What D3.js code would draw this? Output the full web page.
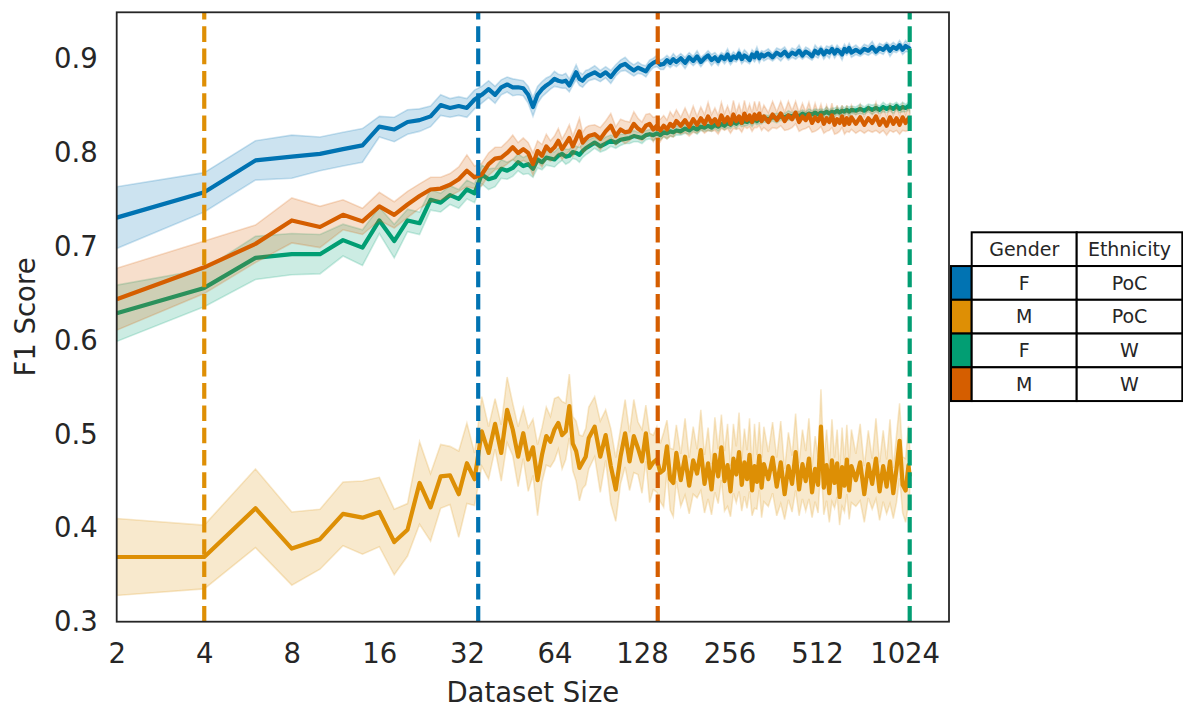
<!DOCTYPE html>
<html>
<head>
<meta charset="utf-8">
<script src="https://cdn.jsdelivr.net/npm/d3@7"></script>
<style>
  body { margin: 0; background: #fff; }
  svg { display: block; font-family: "DejaVu Sans", sans-serif; }
</style>
</head>
<body>
<svg id="chart"></svg>
<script>
// dataset sizes (x)
var sizes = [
  2,4,6,8,10,12,14,16,18,20, 22,24,26,28,30,32,34,36,38,40, 42,44,46,48,50,52,54,56,58,60, 62,64,66,68,70,72,74,76,78,80, 82,84,
  88,92,96,100,104,108,112,116,120,124, 128,132,136,140,144,148,152,156,160,164, 168,
  174,180,186,192,198,204,210,216,222,228, 234,240,246,252,258,264,270,276,282,288, 294,300,306,312,318,324,330,336,
  348,360,372,384,396,408,420,432,444,456, 468,480,492,504,516,528,540,552,564,576, 588,600,612,624,636,648,660,672,
  696,720,744,768,792,816,840,864,888,912, 936,960,984,1008,1032,1056,1066
];

// F / PoC
var fPocMean = [
  0.731,0.758,0.792,0.796,0.799,0.804,0.808,0.828,0.825,0.833, 0.835,0.839,0.851,0.848,0.850,0.848,0.857,0.862,0.868,0.862,
  0.870,0.873,0.870,0.870,0.869,0.862,0.849,0.862,0.868,0.872, 0.875,0.879,0.877,0.876,0.877,0.872,0.879,0.886,0.879,0.877, 0.881,0.883,
  0.886,0.882,0.886,0.881,0.888,0.893,0.895,0.891,0.888,0.891, 0.889,0.887,0.893,0.896,0.898,0.894,0.895,0.899,0.896,0.900, 0.897,
  0.901,0.896,0.902,0.898,0.903,0.897,0.901,0.904,0.899,0.902, 0.898,0.903,0.900,0.905,0.899,0.903,0.901,0.906,0.900,0.904, 0.902,0.899,0.905,0.902,0.907,0.901,0.905,0.903,
  0.906,0.902,0.907,0.904,0.908,0.903,0.907,0.905,0.909,0.904, 0.908,0.906,0.903,0.909,0.906,0.910,0.905,0.909,0.907,0.911, 0.906,0.910,0.908,0.905,0.911,0.908,0.912,0.907,
  0.910,0.907,0.911,0.909,0.913,0.908,0.912,0.910,0.914,0.909, 0.913,0.911,0.915,0.910,0.914,0.912,0.914
];
var fPocCi = [
  0.033,0.021,0.021,0.023,0.018,0.018,0.018,0.011,0.013,0.013, 0.012,0.011,0.011,0.010,0.010,0.010,0.010,0.009,0.009,0.009,
  0.008,0.008,0.009,0.008,0.008,0.009,0.010,0.009,0.008,0.008, 0.007,0.008,0.007,0.007,0.008,0.007,0.007,0.008,0.007,0.007, 0.007,0.006,
  0.007,0.006,0.006,0.007,0.006,0.006,0.007,0.006,0.006,0.006, 0.005,0.006,0.006,0.005,0.006,0.005,0.006,0.005,0.005,0.006, 0.005,
  0.005,0.006,0.005,0.005,0.006,0.005,0.004,0.005,0.006,0.005, 0.005,0.004,0.005,0.006,0.005,0.005,0.004,0.005,0.005,0.006, 0.005,0.004,0.005,0.005,0.006,0.005,0.004,0.005,
  0.005,0.004,0.005,0.006,0.005,0.004,0.005,0.005,0.006,0.004, 0.005,0.005,0.004,0.006,0.005,0.004,0.005,0.005,0.006,0.004, 0.005,0.005,0.004,0.006,0.005,0.004,0.005,0.005,
  0.005,0.004,0.005,0.005,0.006,0.004,0.005,0.005,0.004,0.006, 0.005,0.004,0.005,0.005,0.006,0.004,0.005
];

// M / PoC
var mPocMean = [
  0.369,0.369,0.421,0.378,0.388,0.415,0.411,0.417,0.385,0.398, 0.448,0.422,0.455,0.456,0.436,0.469,0.452,0.503,0.480,0.511,
  0.480,0.526,0.505,0.476,0.501,0.473,0.486,0.451,0.478,0.498, 0.492,0.505,0.512,0.499,0.503,0.530,0.490,0.482,0.464,0.470, 0.476,0.496,
  0.508,0.476,0.499,0.466,0.441,0.476,0.501,0.471,0.498,0.485, 0.471,0.501,0.464,0.470,0.473,0.459,0.462,0.487,0.452,0.448, 0.480,
  0.451,0.476,0.445,0.472,0.458,0.483,0.447,0.469,0.441,0.478, 0.455,0.486,0.450,0.467,0.439,0.474,0.457,0.481,0.446,0.470, 0.452,0.478,0.440,0.466,0.449,0.477,0.443,0.468,
  0.452,0.475,0.444,0.470,0.436,0.466,0.447,0.481,0.441,0.468, 0.450,0.474,0.438,0.463,0.446,0.508,0.443,0.467,0.437,0.472, 0.448,0.469,0.433,0.465,0.445,0.473,0.440,0.466,
  0.451,0.470,0.436,0.468,0.447,0.474,0.439,0.466,0.444,0.471, 0.437,0.463,0.493,0.446,0.440,0.467,0.455
];
var mPocCi = [
  0.041,0.034,0.042,0.039,0.032,0.034,0.039,0.037,0.035,0.028, 0.044,0.036,0.034,0.031,0.046,0.043,0.028,0.037,0.028,0.027,
  0.030,0.035,0.028,0.032,0.027,0.034,0.030,0.038,0.029,0.031, 0.027,0.033,0.028,0.036,0.030,0.034,0.029,0.032,0.035,0.028, 0.030,0.033,
  0.032,0.038,0.027,0.040,0.034,0.029,0.036,0.031,0.039,0.028, 0.034,0.030,0.037,0.029,0.035,0.031,0.040,0.028,0.033,0.036, 0.030,
  0.028,0.041,0.030,0.036,0.026,0.043,0.031,0.038,0.027,0.040, 0.029,0.035,0.032,0.044,0.027,0.037,0.030,0.042,0.028,0.036, 0.031,0.039,0.027,0.045,0.029,0.036,0.032,0.040,
  0.029,0.038,0.031,0.044,0.027,0.036,0.030,0.041,0.028,0.037, 0.032,0.043,0.027,0.035,0.030,0.040,0.029,0.038,0.031,0.044, 0.027,0.036,0.030,0.042,0.028,0.037,0.031,0.039,
  0.028,0.041,0.030,0.036,0.027,0.043,0.031,0.038,0.029,0.045, 0.027,0.036,0.040,0.030,0.034,0.042,0.030
];

// F / W
var fWMean = [
  0.629,0.656,0.688,0.692,0.692,0.707,0.699,0.728,0.706,0.728, 0.725,0.750,0.747,0.755,0.751,0.761,0.757,0.777,0.772,0.774,
  0.783,0.781,0.784,0.790,0.786,0.788,0.783,0.793,0.790,0.795, 0.794,0.793,0.797,0.799,0.796,0.797,0.801,0.800,0.798,0.802, 0.805,0.807,
  0.811,0.807,0.810,0.813,0.811,0.814,0.815,0.816,0.818,0.817, 0.816,0.819,0.820,0.819,0.821,0.819,0.822,0.821,0.823,0.822, 0.824,
  0.823,0.826,0.824,0.827,0.825,0.828,0.827,0.829,0.827,0.830, 0.828,0.831,0.829,0.832,0.830,0.833,0.831,0.834,0.832,0.834, 0.833,0.835,0.833,0.836,0.834,0.836,0.835,0.837,
  0.836,0.838,0.837,0.839,0.838,0.840,0.839,0.841,0.839,0.842, 0.840,0.842,0.841,0.843,0.841,0.843,0.842,0.844,0.842,0.844, 0.843,0.845,0.843,0.845,0.844,0.846,0.844,0.846,
  0.845,0.847,0.845,0.848,0.846,0.848,0.846,0.849,0.847,0.849, 0.847,0.850,0.847,0.849,0.848,0.850,0.849
];
var fWCi = [
  0.030,0.020,0.023,0.022,0.021,0.017,0.019,0.014,0.018,0.012, 0.012,0.011,0.010,0.010,0.010,0.010,0.010,0.010,0.011,0.010,
  0.010,0.009,0.009,0.009,0.009,0.010,0.009,0.009,0.008,0.008, 0.008,0.008,0.008,0.007,0.008,0.007,0.007,0.007,0.008,0.007, 0.007,0.007,
  0.006,0.006,0.007,0.006,0.006,0.006,0.005,0.006,0.006,0.005, 0.006,0.005,0.005,0.006,0.005,0.005,0.005,0.006,0.005,0.005, 0.005,
  0.004,0.005,0.004,0.004,0.005,0.004,0.004,0.005,0.004,0.004, 0.005,0.004,0.004,0.005,0.004,0.004,0.005,0.004,0.004,0.005, 0.004,0.004,0.005,0.004,0.004,0.005,0.004,0.004,
  0.004,0.004,0.005,0.004,0.004,0.005,0.004,0.004,0.005,0.004, 0.004,0.005,0.004,0.004,0.005,0.004,0.004,0.005,0.004,0.004, 0.005,0.004,0.004,0.005,0.004,0.004,0.005,0.004,
  0.004,0.005,0.004,0.004,0.005,0.004,0.004,0.005,0.004,0.004, 0.005,0.004,0.004,0.005,0.004,0.004,0.005
];

// M / W
var mWMean = [
  0.644,0.678,0.703,0.728,0.721,0.734,0.727,0.743,0.734,0.745, 0.754,0.761,0.762,0.766,0.772,0.781,0.774,0.777,0.788,0.794,
  0.795,0.800,0.806,0.800,0.804,0.800,0.788,0.802,0.797,0.807, 0.802,0.806,0.813,0.804,0.810,0.816,0.807,0.815,0.823,0.811, 0.815,0.818,
  0.820,0.815,0.823,0.829,0.818,0.825,0.822,0.823,0.831,0.826, 0.823,0.829,0.831,0.825,0.829,0.824,0.829,0.825,0.831,0.828, 0.834,
  0.829,0.835,0.828,0.836,0.830,0.837,0.831,0.839,0.832,0.836, 0.830,0.840,0.833,0.838,0.831,0.841,0.834,0.839,0.832,0.842, 0.835,0.840,0.833,0.841,0.836,0.842,0.834,0.839,
  0.833,0.841,0.835,0.842,0.834,0.840,0.836,0.843,0.833,0.839, 0.835,0.841,0.832,0.838,0.834,0.840,0.831,0.837,0.833,0.840, 0.830,0.836,0.832,0.839,0.830,0.837,0.831,0.838,
  0.831,0.838,0.830,0.837,0.832,0.839,0.830,0.836,0.829,0.838, 0.831,0.837,0.830,0.838,0.832,0.837,0.835
];
var mWCi = [
  0.033,0.028,0.020,0.024,0.022,0.016,0.014,0.015,0.014,0.014, 0.013,0.013,0.012,0.012,0.013,0.017,0.012,0.012,0.012,0.012,
  0.011,0.012,0.013,0.011,0.012,0.011,0.012,0.011,0.012,0.013, 0.011,0.012,0.013,0.011,0.012,0.014,0.011,0.012,0.014,0.011, 0.012,0.011,
  0.010,0.012,0.011,0.013,0.010,0.011,0.012,0.010,0.013,0.011, 0.010,0.012,0.011,0.013,0.010,0.012,0.011,0.010,0.013,0.011, 0.012,
  0.009,0.013,0.010,0.014,0.009,0.012,0.010,0.015,0.009,0.012, 0.010,0.014,0.009,0.012,0.010,0.015,0.009,0.013,0.010,0.014, 0.009,0.012,0.010,0.014,0.009,0.013,0.010,0.012,
  0.010,0.014,0.009,0.013,0.010,0.015,0.009,0.012,0.010,0.014, 0.009,0.013,0.010,0.015,0.009,0.012,0.010,0.014,0.009,0.013, 0.010,0.015,0.009,0.012,0.010,0.014,0.009,0.013,
  0.010,0.014,0.009,0.013,0.010,0.015,0.009,0.012,0.010,0.014, 0.009,0.013,0.010,0.014,0.009,0.013,0.010
];

var seriesColors = ["#0173b2", "#de8f05", "#029e73", "#d55e00"];
var genders = ["F", "M", "F", "M"];
var ethnicities = ["PoC", "PoC", "W", "W"];
var tableHeader = ["Gender", "Ethnicity"];

var xTicks = [2, 4, 8, 16, 32, 64, 128, 256, 512, 1024];
var yTicks = [0.3, 0.4, 0.5, 0.6, 0.7, 0.8, 0.9];
var cutoffs = [4, 35, 145, 1066];
var cutoffColors = ["#de8f05", "#0173b2", "#d55e00", "#029e73"];

var width = 1183, height = 709;
var plot = { left: 116.7, right: 949, top: 12.3, bottom: 621.7 };
var textColor = "#262626";

var svg = d3.select("#chart").attr("width", width).attr("height", height);
svg.append("rect").attr("width", width).attr("height", height).attr("fill", "#fff");

var x = d3.scaleLog().base(2).domain([2, 1455]).range([plot.left, plot.right]);
var y = d3.scaleLinear().domain([0.3, 0.95]).range([plot.bottom, plot.top]);

svg.append("clipPath").attr("id", "plotClip")
  .append("rect")
  .attr("x", plot.left).attr("y", plot.top)
  .attr("width", plot.right - plot.left).attr("height", plot.bottom - plot.top);

var inner = svg.append("g").attr("clip-path", "url(#plotClip)");

function drawSeries(g, mean, ci, color) {
  // line first, then the band on top (same order as seaborn)
  var line = d3.line()
    .x(function (d, i) { return x(sizes[i]); })
    .y(function (d) { return y(d); });
  var band = d3.area()
    .x(function (d, i) { return x(sizes[i]); })
    .y0(function (d, i) { return y(d - ci[i]); })
    .y1(function (d, i) { return y(d + ci[i]); });

  g.append("path").datum(mean)
    .attr("d", line)
    .attr("fill", "none")
    .attr("stroke", color)
    .attr("stroke-width", 4.2)
    .attr("stroke-linejoin", "round");

  g.append("path").datum(mean)
    .attr("d", band)
    .attr("fill", color)
    .attr("fill-opacity", 0.2)
    .attr("stroke", color)
    .attr("stroke-opacity", 0.2)
    .attr("stroke-width", 1.6);
}

drawSeries(inner, fPocMean, fPocCi, seriesColors[0]);
drawSeries(inner, mPocMean, mPocCi, seriesColors[1]);
drawSeries(inner, fWMean, fWCi, seriesColors[2]);
drawSeries(inner, mWMean, mWCi, seriesColors[3]);

// vertical cut-off lines, dash pattern starts at the bottom
inner.selectAll(".cutoff")
  .data(cutoffs)
  .enter().append("line")
  .attr("class", "cutoff")
  .attr("x1", function (d) { return x(d); })
  .attr("x2", function (d) { return x(d); })
  .attr("y1", plot.bottom)
  .attr("y2", plot.top)
  .attr("stroke", function (d, i) { return cutoffColors[i]; })
  .attr("stroke-width", 4.2)
  .attr("stroke-dasharray", "15.6,6.7");

// axes
var xAxis = d3.axisBottom(x)
  .tickValues(xTicks)
  .tickFormat(d3.format("d"))
  .tickSize(0)
  .tickPadding(22);
var yAxis = d3.axisLeft(y)
  .tickValues(yTicks)
  .tickFormat(d3.format(".1f"))
  .tickSize(0)
  .tickPadding(19);

var gx = svg.append("g").attr("transform", "translate(0," + plot.bottom + ")").call(xAxis);
var gy = svg.append("g").attr("transform", "translate(" + plot.left + ",0)").call(yAxis);
[gx, gy].forEach(function (g) {
  g.select(".domain").remove();
  g.selectAll("text")
    .attr("fill", textColor)
    .style("font-size", "27.5px")
    .style("font-family", "DejaVu Sans");
});

svg.append("rect")
  .attr("x", plot.left).attr("y", plot.top)
  .attr("width", plot.right - plot.left).attr("height", plot.bottom - plot.top)
  .attr("fill", "none")
  .attr("stroke", textColor)
  .attr("stroke-width", 1.8);

svg.append("text")
  .attr("x", (plot.left + plot.right) / 2)
  .attr("y", 702)
  .attr("text-anchor", "middle")
  .attr("fill", textColor)
  .style("font-size", "27.5px")
  .text("Dataset Size");

svg.append("text")
  .attr("transform", "translate(35," + (plot.top + plot.bottom) / 2 + ") rotate(-90)")
  .attr("text-anchor", "middle")
  .attr("fill", textColor)
  .style("font-size", "27.5px")
  .text("F1 Score");

// legend table
function drawTable(g) {
  var colX = [951, 971.7, 1076.7, 1182.3];
  var rowTop = 232.3, rowH = 33.75;
  var border = "#000";

  // header
  tableHeader.forEach(function (h, c) {
    g.append("rect")
      .attr("x", colX[c + 1]).attr("y", rowTop)
      .attr("width", colX[c + 2] - colX[c + 1]).attr("height", rowH)
      .attr("fill", "#fff").attr("stroke", border).attr("stroke-width", 2);
    g.append("text")
      .attr("x", (colX[c + 1] + colX[c + 2]) / 2)
      .attr("y", rowTop + rowH / 2)
      .attr("dy", "0.35em")
      .attr("text-anchor", "middle")
      .attr("fill", textColor)
      .style("font-size", "19px")
      .text(h);
  });

  seriesColors.forEach(function (color, r) {
    var top = rowTop + rowH * (r + 1);
    var cells = [genders[r], ethnicities[r]];
    g.append("rect")
      .attr("x", colX[0]).attr("y", top)
      .attr("width", colX[1] - colX[0]).attr("height", rowH)
      .attr("fill", color).attr("stroke", border).attr("stroke-width", 2);
    cells.forEach(function (t, c) {
      g.append("rect")
        .attr("x", colX[c + 1]).attr("y", top)
        .attr("width", colX[c + 2] - colX[c + 1]).attr("height", rowH)
        .attr("fill", "#fff").attr("stroke", border).attr("stroke-width", 2);
      g.append("text")
        .attr("x", (colX[c + 1] + colX[c + 2]) / 2)
        .attr("y", top + rowH / 2)
        .attr("dy", "0.35em")
        .attr("text-anchor", "middle")
        .attr("fill", textColor)
        .style("font-size", "19px")
        .text(t);
    });
  });
}

drawTable(svg.append("g"));
</script>
</body>
</html>
